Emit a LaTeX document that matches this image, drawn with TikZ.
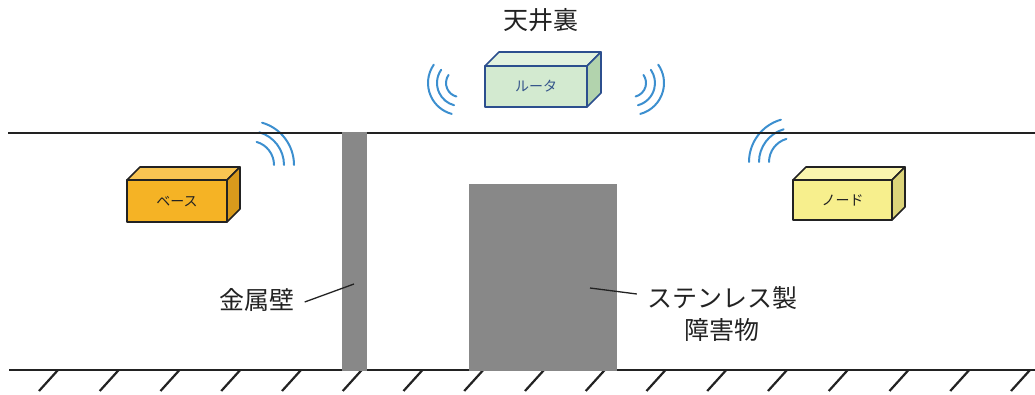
\documentclass[tikz,border=0pt]{standalone}
\usepackage{fontspec}
\newfontfamily\jp{Noto Sans CJK JP}
\definecolor{wavecol}{HTML}{3C8FCF}
\definecolor{pillargray}{HTML}{888888}
\definecolor{inkcol}{HTML}{222222}
\definecolor{routerfront}{HTML}{D3EAD0}
\definecolor{routertop}{HTML}{E2F2DF}
\definecolor{routerside}{HTML}{B2D3AD}
\definecolor{routeredge}{HTML}{2C4F8E}
\definecolor{routertext}{HTML}{34548A}
\definecolor{basefront}{HTML}{F5B325}
\definecolor{basetop}{HTML}{F8C552}
\definecolor{baseside}{HTML}{D89A1C}
\definecolor{nodefront}{HTML}{F7EF8D}
\definecolor{nodetop}{HTML}{FAF5AE}
\definecolor{nodeside}{HTML}{DCD47A}
% cuboid: x, y, width, height, depth, front, top, side, edge colour
\newcommand\drawcuboid[9]{%
  \filldraw[fill=#7, draw=#9, line width=1.6pt, line join=round]
    (#1,#2+#4) -- (#1+#5,#2+#4+#5) -- (#1+#3+#5,#2+#4+#5) -- (#1+#3,#2+#4) -- cycle;
  \filldraw[fill=#8, draw=#9, line width=1.6pt, line join=round]
    (#1+#3,#2) -- (#1+#3+#5,#2+#5) -- (#1+#3+#5,#2+#4+#5) -- (#1+#3,#2+#4) -- cycle;
  \filldraw[fill=#6, draw=#9, line width=1.6pt, line join=round]
    (#1,#2) rectangle (#1+#3,#2+#4);
}
% concentric wave arcs: centre, start angle, end angle, radii
\newcommand\drawwaves[4]{%
  \foreach \r in {#4}
    \draw[wave] (#1) ++(#2:\r) arc[start angle=#2, end angle=#3, radius=\r];
}
\begin{document}
\begin{tikzpicture}[x=1pt,y=1pt,
  floorline/.style={line width=2.4pt, draw=inkcol},
  hatch/.style={line width=2.2pt, draw=inkcol},
  wave/.style={line width=2pt, draw=wavecol, line cap=round},
  pillar/.style={fill=pillargray, draw=none},
  biglabel/.style={font=\jp\fontsize{25}{32}\selectfont, text=inkcol, inner sep=0pt, align=center},
  boxlabel/.style={font=\jp\fontsize{14}{16}\selectfont, inner sep=0pt},
  leader/.style={line width=1.3pt, draw=inkcol}]
\useasboundingbox (0,0) rectangle (1035,394);

% wave centres
\coordinate (wbase) at (250,229);
\coordinate (wnode) at (793,232);
\coordinate (wrl) at (460,311);
\coordinate (wrr) at (632,311);

\drawwaves{wbase}{0}{74}{24,34,44}
\drawwaves{wnode}{106}{180}{24,34,44}
\drawwaves{wrl}{145}{255}{14,23,32}
\drawwaves{wrr}{-75}{35}{14,23,32}

% ceiling and floor
\draw[floorline] (8,261) -- (1035,261);
\draw[floorline] (9,24) -- (1035,24);
\foreach \k in {0,...,16}
  \draw[hatch] (58+60.75*\k,24) -- ++(-19,-21);

% metal wall and stainless obstacle
\fill[pillar] (342,23) rectangle (367,262);
\fill[pillar] (469,23) rectangle (617,210);

% boxes
\drawcuboid{485}{287}{102}{41}{14}{routerfront}{routertop}{routerside}{routeredge}
\node[boxlabel, text=routertext] (router) at (536,307.5) {ルータ};
\drawcuboid{127}{172}{100}{42}{13}{basefront}{basetop}{baseside}{inkcol}
\node[boxlabel, text=inkcol] (base) at (177,192) {ベース};
\drawcuboid{793}{174}{99}{40}{13}{nodefront}{nodetop}{nodeside}{inkcol}
\node[boxlabel, text=inkcol] (node) at (842.5,194) {ノード};

% labels
\node[biglabel] (ceiling) at (541,374) {天井裏};
\node[biglabel] (wall) at (257,94) {金属壁};
\node[biglabel] (obstacle) at (722,80) {ステンレス製\\障害物};
\coordinate (wallpt) at (354,110);
\coordinate (obspt) at (590,106);
\draw[leader] (wall.east) ++(10,-2) -- (wallpt);
\draw[leader] (obstacle.west) ++(-10,20) -- (obspt);
\end{tikzpicture}
\end{document}
